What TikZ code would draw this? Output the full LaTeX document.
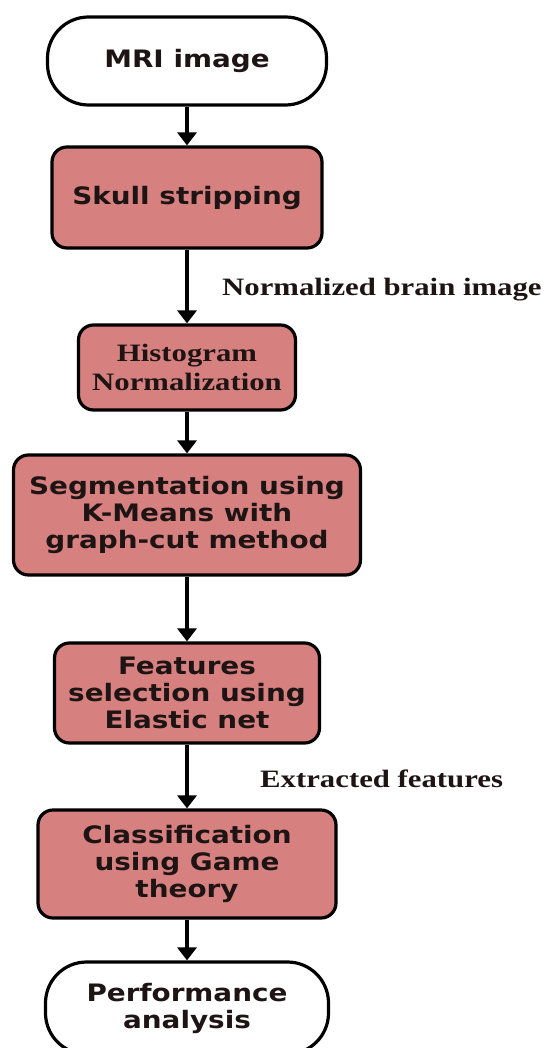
\documentclass[tikz,border=0pt]{standalone}
\usepackage{fontspec}
\usetikzlibrary{arrows.meta}
\newfontfamily\sansb{DejaVu Sans}[FakeStretch=1.16]
\newfontfamily\serifb{Liberation Serif}[FakeStretch=1.23]
\definecolor{pinkfill}{RGB}{214,128,128}
\definecolor{txtdark}{RGB}{30,20,20}
\tikzset{
  procbox/.style={draw=black, line width=3.2pt, rounded corners=15pt, fill=pinkfill,
    inner sep=0pt, align=center, text=txtdark,
    font=\sansb\bfseries\fontsize{24}{27}\selectfont},
  termbox/.style={draw=black, line width=3.2pt, rounded corners=41pt, fill=white,
    inner sep=0pt, align=center, text=txtdark,
    font=\sansb\bfseries\fontsize{24}{27}\selectfont},
  serifbox/.style={procbox, font=\serifb\bfseries\fontsize{25}{29}\selectfont},
  flowlabel/.style={anchor=base west, inner sep=0pt, text=txtdark,
    font=\serifb\bfseries\fontsize{25}{29}\selectfont},
  flow/.style={line width=3.4pt, -{Triangle[length=13pt,width=19pt]}}
}
\begin{document}
\begin{tikzpicture}[x=1pt,y=-1pt]
\useasboundingbox (0,0) rectangle (544,1048);
\node[termbox, minimum width=279pt, minimum height=88pt] (mri) at (187,61) {MRI image};
\node[procbox, minimum width=270pt, minimum height=101pt] (skull) at (187,197.5) {Skull stripping};
\node[serifbox, minimum width=217pt, minimum height=85pt] (hist) at (187,367.5) {Histogram\\Normalization};
\node[procbox, minimum width=347pt, minimum height=120pt] (seg) at (187,515) {Segmentation using\\K-Means with\\graph-cut method};
\node[procbox, minimum width=265pt, minimum height=100pt] (feat) at (187,693) {Features\\selection using\\Elastic net};
\node[procbox, minimum width=298pt, minimum height=108pt] (cls) at (187,864) {Classification\\using Game\\theory};
\node[termbox, minimum width=283pt, minimum height=92pt] (perf) at (187,1008) {Performance\\analysis};
\node[flowlabel] (lab1) at (222,295) {Normalized brain image};
\node[flowlabel] (lab2) at (260,787) {Extracted features};
\draw[flow] (mri) -- (skull);
\draw[flow] (skull) -- (hist);
\draw[flow] (hist) -- (seg);
\draw[flow] (seg) -- (feat);
\draw[flow] (feat) -- (cls);
\draw[flow] (cls) -- (perf);
\end{tikzpicture}
\end{document}
